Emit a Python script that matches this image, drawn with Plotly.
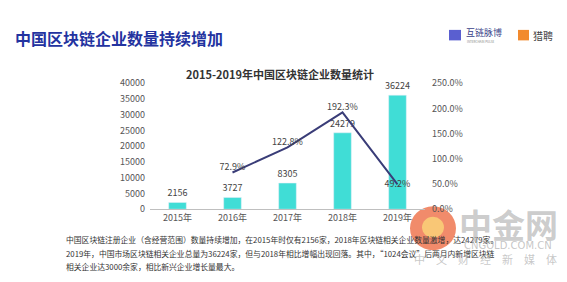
import plotly.graph_objects as go

years = ["2015年", "2016年", "2017年", "2018年", "2019年"]
counts = [2156, 3727, 8305, 24279, 36224]
growth_years = ["2016年", "2017年", "2018年", "2019年"]
growth = [0.729, 1.228, 1.923, 0.492]
growth_labels = ["72.9%", "122.8%", "192.3%", "49.2%"]

W, H = 567, 282
FONT = "Noto Sans CJK SC"

def px(x):
    return x / W

def py(y):
    return 1 - y / H

fig = go.Figure()
fig.add_trace(go.Bar(
    x=years, y=counts, marker_color="#40DDD6", width=0.32,
    text=[str(v) for v in counts], textposition="outside", constraintext="none",
    textfont=dict(size=9, color="#444444", family=FONT),
    cliponaxis=False, showlegend=False,
))
fig.add_trace(go.Scatter(
    x=growth_years, y=growth, yaxis="y2", mode="lines+text",
    line=dict(color="#3a3d78", width=2),
    text=growth_labels,
    textposition=["top center", "top center", "top center", "middle center"],
    textfont=dict(size=9, color="#444444", family=FONT),
    cliponaxis=False, showlegend=False,
))

fig.update_layout(
    width=W, height=H,
    margin=dict(l=0, r=0, t=0, b=0),
    paper_bgcolor="white", plot_bgcolor="white",
    font=dict(family=FONT, size=9, color="#555555"),
    bargap=0.5,
    xaxis=dict(
        domain=[px(150), px(425)],
        showline=True, linecolor="#bfbfbf", linewidth=1,
        ticks="", tickfont=dict(size=9, color="#555555"),
        showgrid=False, anchor="y",
    ),
    yaxis=dict(
        domain=[py(212), py(80)], range=[0, 40000],
        tickvals=[0, 5000, 10000, 15000, 20000, 25000, 30000, 35000, 40000],
        ticktext=["0", "5000", "10000", "15000", "20000", "25000", "30000", "35000", "40000"],
        showgrid=False, zeroline=False, showline=False,
        tickfont=dict(size=9, color="#555555"), ticklabelstandoff=4,
    ),
    yaxis2=dict(
        overlaying="y", side="right", range=[0, 2.5],
        tickvals=[0, 0.5, 1.0, 1.5, 2.0, 2.5],
        ticktext=["0.0%", "50.0%", "100.0%", "150.0%", "200.0%", "250.0%"],
        showgrid=False, zeroline=False, showline=False,
        tickfont=dict(size=9, color="#555555"), ticklabelstandoff=6,
    ),
)

ann = []
ann.append(dict(x=px(13), y=py(33), xref="paper", yref="paper", xanchor="left", yanchor="middle",
                text="<b>中国区块链企业数量持续增加</b>", showarrow=False,
                font=dict(size=16, color="#2333a0", family=FONT)))
ann.append(dict(x=px(280), y=py(70), xref="paper", yref="paper", xanchor="center", yanchor="middle",
                text="<b>2015-2019年中国区块链企业数量统计</b>", showarrow=False,
                font=dict(size=11, color="#333333", family=FONT)))
# logos
ann.append(dict(x=px(464), y=py(27), xref="paper", yref="paper", xanchor="left", yanchor="middle",
                text="互链脉博", showarrow=False, font=dict(size=9, color="#3a3f8a", family=FONT)))
ann.append(dict(x=px(465), y=py(36.5), xref="paper", yref="paper", xanchor="left", yanchor="middle",
                text="INTERCHAIN PULSE", showarrow=False, font=dict(size=3, color="#888888", family=FONT)))
ann.append(dict(x=px(531), y=py(30), xref="paper", yref="paper", xanchor="left", yanchor="middle",
                text="猎聘", showarrow=False, font=dict(size=10, color="#444444", family=FONT)))
# description text
desc = [
    "中国区块链注册企业（含经营范围）数量持续增加，在2015年时仅有2156家，2018年区块链相关企业数量激增，达24279家。",
    "2019年，中国市场区块链相关企业总量为36224家，但与2018年相比增幅出现回落。其中，“1024会议”后两月内新增区块链",
    "相关企业达3000余家，相比新兴企业增长量最大。",
]
for i, t in enumerate(desc):
    ann.append(dict(x=px(64), y=py(244 + i * 14), xref="paper", yref="paper", xanchor="left", yanchor="middle",
                    text=t, showarrow=False, font=dict(size=7.8, color="#333333", family=FONT)))
# watermark
ann.append(dict(x=px(508), y=py(228), xref="paper", yref="paper", xanchor="center", yanchor="middle",
                text="<b>中金网</b>", showarrow=False, font=dict(size=33, color="rgba(175,175,175,0.65)", family=FONT)))
ann.append(dict(x=px(508), y=py(250), xref="paper", yref="paper", xanchor="center", yanchor="middle",
                text="CNGOLD.COM.CN", showarrow=False, font=dict(size=10, color="rgba(160,160,160,0.6)", family="DejaVu Sans")))
ann.append(dict(x=px(485), y=py(264), xref="paper", yref="paper", xanchor="center", yanchor="middle",
                text="中　文　财　经　新　媒　体", showarrow=False, font=dict(size=11, color="rgba(175,175,175,0.7)", family=FONT)))
fig.update_layout(annotations=ann)

shapes = [
    dict(type="rect", xref="paper", yref="paper", x0=px(449), x1=px(461), y0=py(35), y1=py(24),
         fillcolor="#5a5fd0", line=dict(width=0)),
    dict(type="rect", xref="paper", yref="paper", x0=px(518), x1=px(529), y0=py(35), y1=py(24),
         fillcolor="#f28a2e", line=dict(width=0)),
    dict(type="circle", xref="paper", yref="paper", x0=px(410), x1=px(456), y0=py(255), y1=py(209),
         fillcolor="rgba(238,110,70,0.8)", line=dict(width=0), layer="below"),
    dict(type="circle", xref="paper", yref="paper", x0=px(422), x1=px(444), y0=py(242), y1=py(220),
         fillcolor="rgba(250,205,120,0.9)", line=dict(width=0), layer="below"),
]
fig.update_layout(shapes=shapes)

fig.write_html("out.html")
